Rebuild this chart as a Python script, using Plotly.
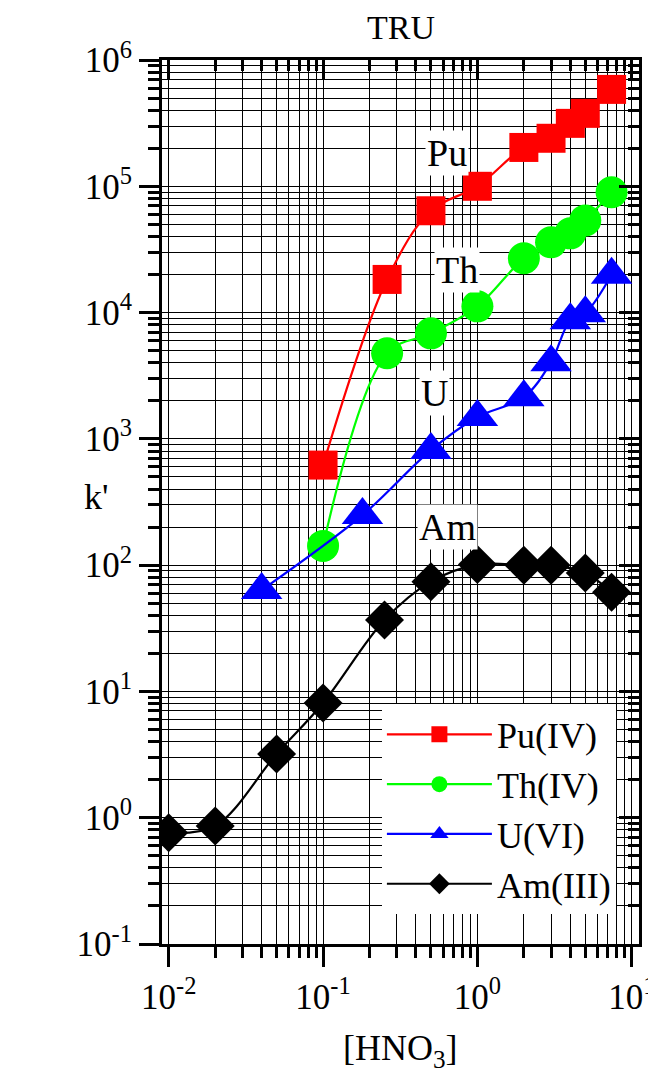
import plotly.graph_objects as go
import math

# ---- data ----
pu_x = [0.1, 0.26, 0.5, 1, 2, 3, 4, 5, 7.4]
pu_y = [620, 18300, 64000, 100000, 203000, 240000, 315000, 378000, 585000]
th_x = [0.1, 0.26, 0.5, 1, 2, 3, 4, 5, 7.4]
th_y = [142, 4760, 6850, 11200, 26900, 36000, 42400, 53700, 89600]
u_x = [0.04, 0.18, 0.5, 1, 2, 3, 4, 5, 7.4]
u_y = [63.5, 249, 815, 1490, 2140, 4050, 8700, 9870, 19900]
am_x = [0.01, 0.02, 0.05, 0.1, 0.25, 0.5, 1, 2, 3, 5, 7.4]
am_y = [0.76, 0.86, 3.2, 8.1, 36.8, 74, 101, 100, 100, 86.7, 61]

series_names = ["Pu(IV)", "Th(IV)", "U(VI)", "Am(III)"]
labels = ["Pu", "Th", "U", "Am"]
label_x = [0.64, 0.74, 0.53, 0.64]
label_y = [185000, 21600, 2300, 200]

x_major = [0.01, 0.1, 1, 10]
x_major_text = ["10<sup>-2</sup>", "10<sup>-1</sup>", "10<sup>0</sup>", "10<sup>1</sup>"]
y_major = [0.1, 1, 10, 100, 1e3, 1e4, 1e5, 1e6]
y_major_text = ["10<sup>-1</sup>", "10<sup>0</sup>", "10<sup>1</sup>", "10<sup>2</sup>",
                "10<sup>3</sup>", "10<sup>4</sup>", "10<sup>5</sup>", "10<sup>6</sup>"]

FONT = "Liberation Serif"

x_minor = [m * 10 ** e for e in range(-3, 1) for m in range(2, 10)]
y_minor = [m * 10 ** e for e in range(-1, 6) for m in range(2, 10)]

styles = [
    dict(color="#FF0000", symbol="square", size=29),
    dict(color="#00FF00", symbol="circle", size=32),
    dict(color="#0000FF", symbol="triangle-up", size=36),
    dict(color="#000000", symbol="diamond", size=30),
]
xs = [pu_x, th_x, u_x, am_x]
ys = [pu_y, th_y, u_y, am_y]

fig = go.Figure()
for i in range(4):
    st = styles[i]
    fig.add_trace(go.Scatter(
        x=xs[i], y=ys[i], name=series_names[i], mode="lines+markers",
        line=dict(color=st["color"], width=2.2, shape="spline", smoothing=1),
        marker=dict(color=st["color"], symbol=st["symbol"], size=st["size"], line=dict(width=0)),
    ))

# invisible trace to activate top/right mirror axes
fig.add_trace(go.Scatter(x=am_x, y=am_y, xaxis="x2", yaxis="y2", mode="markers",
                         marker=dict(opacity=0), showlegend=False, hoverinfo="skip"))

xr = [-2.0435, 1.047]
yr = [-1, 6]

# page body has an 8px margin, so the figure is drawn 8px right/down
fig.update_layout(
    width=648, height=1075,
    margin=dict(l=154, r=17, t=52, b=139),
    paper_bgcolor="white", plot_bgcolor="white",
    font=dict(family=FONT, color="black", size=34),
    showlegend=True,
    legend=dict(x=0.461, y=0.271, xanchor="left", yanchor="top",
                bgcolor="white", borderwidth=0, font=dict(family=FONT, size=36),
                itemwidth=105),
    xaxis=dict(type="log", range=xr, tickmode="array", tickvals=x_major, ticktext=x_major_text,
               ticks="outside", ticklen=20, tickwidth=3, tickcolor="black",
               showline=True, linewidth=3, linecolor="black", mirror=True,
               showgrid=True, gridcolor="black", gridwidth=1, zeroline=False,
               automargin=False, tickfont=dict(family=FONT, size=35),
               minor=dict(tickmode="array", tickvals=x_minor, ticks="outside", ticklen=11,
                          tickwidth=3, tickcolor="black", showgrid=True,
                          gridcolor="black", gridwidth=1)),
    yaxis=dict(type="log", range=yr, tickmode="array", tickvals=y_major, ticktext=y_major_text,
               ticks="outside", ticklen=20, tickwidth=3, tickcolor="black",
               showline=True, linewidth=3, linecolor="black", mirror=True,
               showgrid=True, gridcolor="black", gridwidth=1, zeroline=False,
               automargin=False, tickfont=dict(family=FONT, size=35),
               minor=dict(tickmode="array", tickvals=y_minor, ticks="outside", ticklen=11,
                          tickwidth=3, tickcolor="black", showgrid=True,
                          gridcolor="black", gridwidth=1)),
    xaxis2=dict(type="log", range=xr, overlaying="x", side="top", anchor="y",
                tickmode="array", tickvals=x_major, ticks="inside", ticklen=20, tickwidth=3,
                tickcolor="black", showticklabels=False, showgrid=False, showline=False,
                zeroline=False, automargin=False,
                minor=dict(tickmode="array", tickvals=x_minor, ticks="inside", ticklen=11,
                           tickwidth=3, tickcolor="black", showgrid=False)),
    yaxis2=dict(type="log", range=yr, overlaying="y", side="right", anchor="x",
                tickmode="array", tickvals=y_major, ticks="inside", ticklen=20, tickwidth=3,
                tickcolor="black", showticklabels=False, showgrid=False, showline=False,
                zeroline=False, automargin=False,
                minor=dict(tickmode="array", tickvals=y_minor, ticks="inside", ticklen=11,
                           tickwidth=3, tickcolor="black", showgrid=False)),
)

annotations = []
for i in range(4):
    annotations.append(dict(x=math.log10(label_x[i]), y=math.log10(label_y[i]), xref="x", yref="y",
                            text=labels[i], showarrow=False, bgcolor="white",
                            font=dict(family=FONT, size=38, color="black")))
annotations.append(dict(x=0.5, y=1, xref="paper", yref="paper", yshift=12, yanchor="bottom",
                        text="TRU", showarrow=False, font=dict(family=FONT, size=34)))
annotations.append(dict(x=0.5, y=0, xref="paper", yref="paper", yshift=-82, yanchor="top",
                        text="[HNO<sub>3</sub>]", showarrow=False, font=dict(family=FONT, size=36)))
annotations.append(dict(x=0, y=0.506, xref="paper", yref="paper", xshift=-66, xanchor="center",
                        text="k'", showarrow=False, font=dict(family=FONT, size=36)))
fig.update_layout(annotations=annotations)

fig.write_html("out.html")
